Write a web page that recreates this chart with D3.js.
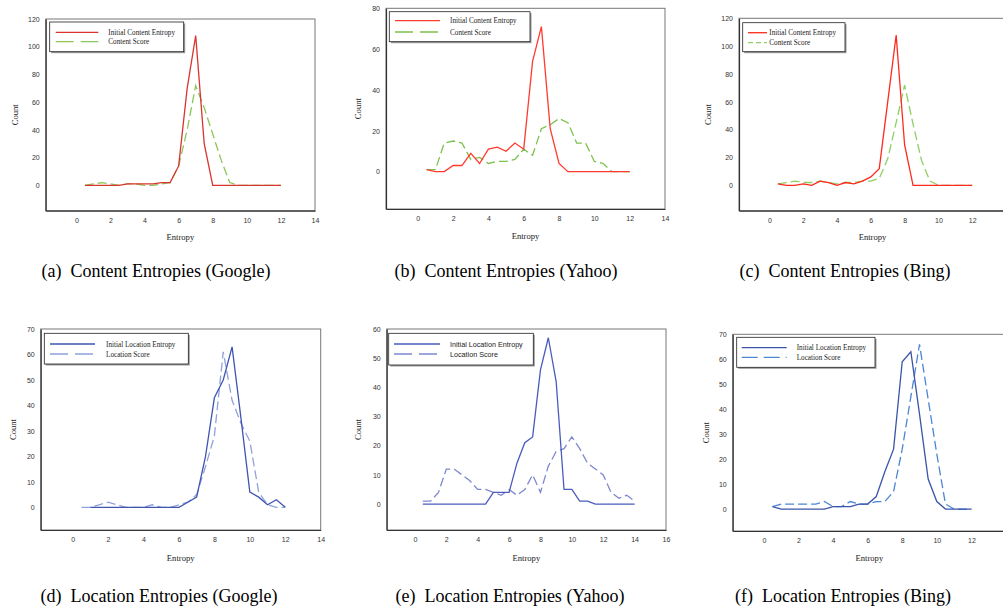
<!DOCTYPE html>
<html>
<head>
<meta charset="utf-8">
<title>Entropy distributions</title>
<script src="https://cdn.jsdelivr.net/npm/d3@7/dist/d3.min.js"></script>
<style>
    html, body {
        margin: 0;
        padding: 0;
        background: #fff;
        overflow: hidden;
    }
</style>
</head>
<body>
<div id="chart"></div>
<script>
	// entropy bins (x values)
	const bins12 = [0.5, 1, 1.5, 2, 2.5, 3, 3.5, 4, 4.5, 5, 5.5, 6, 6.5, 7, 7.5, 8, 8.5, 9, 9.5, 10, 10.5, 11, 11.5, 12];
	const bins14 = [0.5, 1, 1.5, 2, 2.5, 3, 3.5, 4, 4.5, 5, 5.5, 6, 6.5, 7, 7.5, 8, 8.5, 9, 9.5, 10, 10.5, 11, 11.5, 12, 12.5, 13, 13.5, 14];

	// counts
	const googleContentInitial = [0, 0, 0, 0, 0, 1, 1, 1, 1, 2, 2, 14, 70, 108, 30, 0, 0, 0, 0, 0, 0, 0, 0, 0];
	const googleContentScore = [0, 1, 2, 1, 0, 1, 1, 0, 0, 1, 2, 14, 40, 72, 56, 37, 18, 2, 0, 0, 0, 0, 0, 0];
	const yahooContentInitial = [1, 0, 0, 3, 3, 9, 4, 11, 12, 10, 14, 11, 54, 71, 21, 4, 0, 0, 0, 0, 0, 0, 0, 0];
	const yahooContentScore = [1, 1, 14, 15, 14, 6, 7, 4, 5, 5, 6, 11, 8, 21, 23, 26, 24, 14, 14, 5, 4, 0, 0, 0];
	const bingContentInitial = [1, 0, 0, 1, 0, 3, 2, 0, 2, 1, 3, 6, 12, 60, 108, 29, 0, 0, 0, 0, 0, 0, 0, 0];
	const bingContentScore = [1, 2, 3, 2, 2, 3, 2, 1, 2, 2, 3, 3, 5, 19, 45, 72, 44, 18, 3, 0, 0, 0, 0, 0];
	const googleLocationInitial = [null, 0, 0, 0, 0, 0, 0, 0, 0, 0, 0, 0, 2, 4, 20, 43, 50, 63, 35, 6, 4, 1, 3, 0];
	const googleLocationScore = [0, 0, 1, 2, 1, 0, 0, 0, 1, 0, 0, 1, 2, 5, 16, 28, 61, 42, 33, 26, 6, 1, 0, 0];
	const yahooLocationInitial = [0, 0, 0, 0, 0, 0, 0, 0, 0, 4, 4, 4, 14, 21, 23, 46, 57, 42, 5, 5, 1, 1, 0, 0, 0, 0, 0, 0];
	const yahooLocationScore = [1, 1, 4, 12, 12, 10, 8, 5, 5, 4, 3, 5, 3, 5, 10, 4, 13, 18, 19, 23, 19, 14, 12, 10, 4, 2, 3, 1];
	const bingLocationInitial = [1, 0, 0, 0, 0, 0, 0, 1, 1, 1, 2, 2, 5, 15, 24, 59, 63, 38, 12, 3, 0, 0, 0, 0];
	const bingLocationScore = [1, 2, 2, 2, 2, 2, 3, 1, 1, 3, 2, 2, 3, 3, 7, 24, 45, 66, 44, 22, 2, 0, 0, 0];

	const contentLabels = ["Initial Content Entropy", "Content Score"];
	const locationLabels = ["Initial Location Entropy", "Location Score"];
	const captions = [
		"(a)\u00a0 Content Entropies (Google)",
		"(b)\u00a0 Content Entropies (Yahoo)",
		"(c)\u00a0 Content Entropies (Bing)",
		"(d)\u00a0 Location Entropies (Google)",
		"(e)\u00a0 Location Entropies (Yahoo)",
		"(f)\u00a0 Location Entropies (Bing)"
	];
	const ticks12 = [0, 2, 4, 6, 8, 10, 12];
	const ticks14 = [0, 2, 4, 6, 8, 10, 12, 14];
	const ticks16 = [0, 2, 4, 6, 8, 10, 12, 14, 16];

	const width = 1003;
	const height = 611;
	const serif = "'Liberation Serif', 'Times New Roman', serif";
	const sans = "'Liberation Sans', Arial, sans-serif";

	// layout of each panel (pixel frame, legend box, caption spot)
	const panels = [
		{
			frame: [45.7, 315, 19, 210.7], xMax: 14, yDomain: [-18.3, 120], yStep: 20, xTicks: ticks14,
			x: bins12, a: googleContentInitial, b: googleContentScore, labels: contentLabels,
			colors: ["#d9352f", "#8cc65a"], dash: "9,4",
			legend: {box: [49.7, 22, 134, 29.7], line: [55.7, 98.3], rows: [32.3, 41.7], tx: 108.3, font: serif, dash: "18,7"},
			caption: [156, 276.5], countX: 15, entropyY: 240
		},
		{
			frame: [386, 665, 8.3, 209], xMax: 14, yDomain: [-18.3, 80], yStep: 20, xTicks: ticks14,
			x: bins12, a: yahooContentInitial, b: yahooContentScore, labels: contentLabels,
			colors: ["#ff3b2f", "#7cc24e"], dash: "9,4",
			legend: {box: [389.3, 11.7, 140.7, 30], line: [395, 440], rows: [20.7, 32], tx: 450, font: serif, dash: "18,7"},
			caption: [506, 276.5], countX: 358.3, entropyY: 239
		},
		{
			frame: [739, 1006, 18.3, 210.7], xMax: 14, yDomain: [-18.25, 120], yStep: 20, xTicks: ticks12,
			x: bins12, a: bingContentInitial, b: bingContentScore, labels: contentLabels,
			colors: ["#ff2a1e", "#8ed064"], dash: "9,4",
			legend: {box: [742.7, 22.7, 102.3, 29], line: [748, 767], rows: [32.7, 42.7], tx: 769.3, font: serif, dash: "5,3"},
			caption: [845, 276.5], countX: 708, entropyY: 240
		},
		{
			frame: [40.7, 320.7, 329, 530], xMax: 14, yDomain: [-8.9, 70], yStep: 10, xTicks: ticks14,
			x: bins12, a: googleLocationInitial, b: googleLocationScore, labels: locationLabels,
			colors: ["#3f55b0", "#8fa2dc"], dash: "9,4",
			legend: {box: [44.3, 333.3, 144, 30.7], line: [50, 95], rows: [344, 354], tx: 106, font: serif, dash: "18,7"},
			caption: [159, 601.5], countX: 13.3, entropyY: 561
		},
		{
			frame: [386.7, 666, 329, 530], xMax: 16, yDomain: [-8.9, 60], yStep: 10, xTicks: ticks16,
			x: bins14, a: yahooLocationInitial, b: yahooLocationScore, labels: locationLabels,
			colors: ["#4a5bbd", "#7f88cf"], dash: "9,4",
			legend: {box: [388.7, 333.3, 144.6, 31.7], line: [394, 440], rows: [344, 354], tx: 450, font: sans, dash: "18,7"},
			caption: [510, 601.5], countX: 358, entropyY: 561
		},
		{
			frame: [732.7, 1006, 334.3, 531], xMax: 14, yDomain: [-8.8, 70], yStep: 10, xTicks: ticks12,
			x: bins12, a: bingLocationInitial, b: bingLocationScore, labels: locationLabels,
			colors: ["#3a54a8", "#4a86d4"], dash: "9,4",
			legend: {box: [736.7, 337.3, 138.3, 30], line: [741.7, 786.7], rows: [347.7, 357.3], tx: 796.7, font: serif, dash: "16,6"},
			caption: [843, 601.5], countX: 706, entropyY: 561
		}
	];

	const svg = d3.select("#chart").append("svg")
			.attr("width", width)
			.attr("height", height)
			.attr("viewBox", [0, 0, width, height]);

	function drawPanel(p, i) {
		const [x0, x1, y0, y1] = p.frame;
		const xScale = d3.scaleLinear([-1.8, p.xMax], [x0, x1]);
		const yScale = d3.scaleLinear(p.yDomain, [y1, y0]);
		const g = svg.append("g");

		// frame
		g.append("rect")
				.attr("x", x0).attr("y", y0)
				.attr("width", x1 - x0).attr("height", y1 - y0)
				.attr("fill", "none")
				.attr("stroke", "#777")
				.attr("stroke-width", 1);

		const yTicks = d3.range(0, p.yDomain[1] + 0.1, p.yStep);

		g.append("g")
				.attr("transform", `translate(0,${y1})`)
				.call(d3.axisBottom(xScale).tickValues(p.xTicks).tickSize(0).tickPadding(7))
				.call(a => a.select(".domain").attr("stroke", "#333").attr("stroke-width", 1.2))
				.call(a => a.selectAll("text").attr("font-family", sans).attr("font-size", 7).attr("fill", "#333"));

		g.append("g")
				.attr("transform", `translate(${x0},0)`)
				.call(d3.axisLeft(yScale).tickValues(yTicks).tickSize(0).tickPadding(6))
				.call(a => a.select(".domain").attr("stroke", "#333").attr("stroke-width", 1.2))
				.call(a => a.selectAll("text").attr("font-family", sans).attr("font-size", 7).attr("fill", "#333"));

		// series
		const line = (ys) => d3.line()
				.defined((d, k) => ys[k] !== null)
				.x(d => xScale(d))
				.y((d, k) => yScale(ys[k]))(p.x);

		g.append("path")
				.attr("d", line(p.b))
				.attr("fill", "none")
				.attr("stroke", p.colors[1])
				.attr("stroke-width", 1.3)
				.attr("stroke-dasharray", p.dash);

		g.append("path")
				.attr("d", line(p.a))
				.attr("fill", "none")
				.attr("stroke", p.colors[0])
				.attr("stroke-width", 1.3);

		// legend
		const L = p.legend;
		g.append("rect")
				.attr("x", L.box[0] + 1.5).attr("y", L.box[1] + 1.5)
				.attr("width", L.box[2]).attr("height", L.box[3])
				.attr("fill", "#999");
		g.append("rect")
				.attr("x", L.box[0]).attr("y", L.box[1])
				.attr("width", L.box[2]).attr("height", L.box[3])
				.attr("fill", "#fff")
				.attr("stroke", "#222")
				.attr("stroke-width", 0.8);
		[0, 1].forEach(k => {
			g.append("line")
					.attr("x1", L.line[0]).attr("x2", L.line[1])
					.attr("y1", L.rows[k]).attr("y2", L.rows[k])
					.attr("stroke", p.colors[k])
					.attr("stroke-width", 1.3)
					.attr("stroke-dasharray", k === 1 ? L.dash : null);
			g.append("text")
					.attr("x", L.tx).attr("y", L.rows[k])
					.attr("dy", "0.35em")
					.attr("font-family", L.font)
					.attr("font-size", 7.2)
					.attr("fill", "#222")
					.text(p.labels[k]);
		});

		// axis titles
		g.append("text")
				.attr("x", (x0 + x1) / 2)
				.attr("y", p.entropyY)
				.attr("text-anchor", "middle")
				.attr("font-family", serif)
				.attr("font-size", 8.6)
				.attr("fill", "#222")
				.text("Entropy");
		g.append("text")
				.attr("transform", `translate(${p.countX},${(y0 + y1) / 2}) rotate(-90)`)
				.attr("text-anchor", "middle")
				.attr("dy", "0.35em")
				.attr("font-family", serif)
				.attr("font-size", 8.6)
				.attr("fill", "#222")
				.text("Count");

		// caption
		svg.append("text")
				.attr("x", p.caption[0])
				.attr("y", p.caption[1])
				.attr("text-anchor", "middle")
				.attr("font-family", serif)
				.attr("font-size", 18)
				.attr("fill", "#000")
				.text(captions[i]);
	}

	panels.forEach(drawPanel);
</script>
</body>
</html>
